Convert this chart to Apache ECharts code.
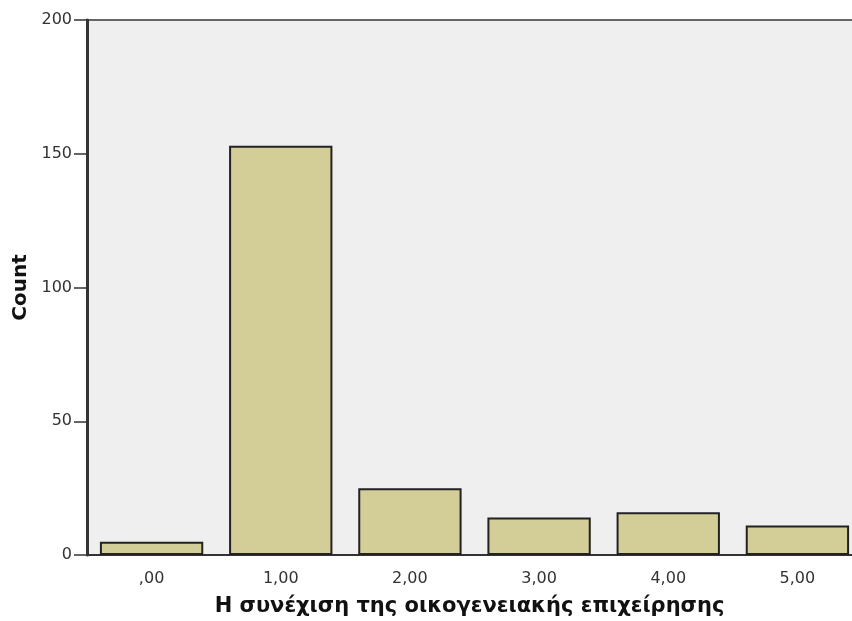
<!DOCTYPE html>
<html>
<head>
<meta charset="utf-8">
<script src="https://cdn.jsdelivr.net/npm/echarts@6/dist/echarts.min.js"></script>
<style>
  html, body { margin: 0; padding: 0; background: #fff; }
  #chart { width: 852px; height: 621px; }
</style>
</head>
<body>
<div id="chart"></div>
<script>
// categories and counts
const categories = [",00", "1,00", "2,00", "3,00", "4,00", "5,00"];
const counts = [5, 153, 25, 14, 16, 11];
const yTicks = [0, 50, 100, 150, 200];

const chart = echarts.init(document.getElementById("chart"));

const option = {
  animation: false,
  grid: {
    left: 87,
    top: 20,
    width: 775,
    bottom: 66,
    outerBoundsMode: "none",
    show: true,
    backgroundColor: "#efefef",
    borderColor: "#666",
    borderWidth: 2,
  },
  xAxis: {
    type: "category",
    data: categories,
    name: "Η συνέχιση της οικογενειακής επιχείρησης",
    nameLocation: "middle",
    nameGap: 41,
    nameTextStyle: {
      fontFamily: "DejaVu Sans",
      fontWeight: "bold",
      fontSize: 21,
      color: "#111",
      padding: [0, 10, 0, 0],
    },
    axisLine: { lineStyle: { color: "#333", width: 2 } },
    axisTick: { alignWithLabel: true, length: 11, lineStyle: { color: "#333", width: 1.5 } },
    axisLabel: {
      margin: 16,
      fontFamily: "DejaVu Sans",
      fontSize: 16,
      color: "#333",
    },
  },
  yAxis: {
    type: "value",
    min: 0,
    max: yTicks[yTicks.length - 1],
    interval: yTicks[1] - yTicks[0],
    name: "Count",
    nameLocation: "middle",
    nameGap: 54,
    nameTextStyle: {
      fontFamily: "DejaVu Sans",
      fontWeight: "bold",
      fontSize: 20,
      color: "#111",
    },
    axisLine: { show: true, lineStyle: { color: "#333", width: 3 } },
    axisTick: { show: true, length: 13, lineStyle: { color: "#333", width: 1.5 } },
    axisLabel: {
      margin: 15,
      fontFamily: "DejaVu Sans",
      fontSize: 16,
      color: "#333",
    },
    splitLine: { show: false },
  },
  series: [
    {
      type: "bar",
      data: counts,
      barCategoryGap: "20%",
      itemStyle: {
        color: "#d3ce97",
        borderColor: "#222",
        borderWidth: 2,
      },
    },
  ],
};

chart.setOption(option);
</script>
</body>
</html>
